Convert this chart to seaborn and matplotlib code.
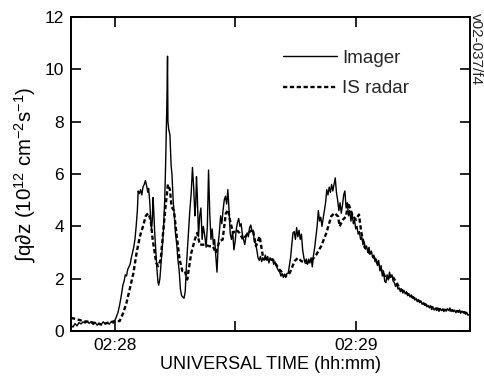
import matplotlib
matplotlib.use("Agg")
import matplotlib.pyplot as plt
import seaborn as sns
import pandas as pd

# seconds relative to 02:28:00
imager_t = [-10.9, -10.4, -9.9, -9.4, -8.9, -8.4, -7.9, -7.4, -6.9, -6.4, -5.9, -5.4, -4.9, -4.4, -3.9, -3.4,
            -2.9, -2.4, -1.9, -1.4, -0.9, -0.4, 0.0, 0.4, 0.8, 1.2, 1.6, 2.0, 2.3, 2.6, 2.9, 3.2, 3.5, 3.8, 4.1,
            4.4, 4.7, 5.0, 5.3, 5.6, 5.8, 6.1, 6.4, 6.7, 7.0, 7.3, 7.6, 7.9, 8.2, 8.4, 8.7, 8.9, 9.1, 9.3, 9.5,
            9.7, 9.9, 10.1, 10.4, 10.7, 10.9, 11.2, 11.5, 11.8, 12.1, 12.4, 12.6, 12.8, 12.95, 13.1, 13.2, 13.4,
            13.7, 14.0, 14.2, 14.5, 14.8, 15.1, 15.4, 15.7, 16.0, 16.3, 16.6, 16.9, 17.2, 17.5, 17.8, 18.2, 18.6,
            19.0, 19.3, 19.6, 19.9, 20.1, 20.3, 20.5, 20.8, 21.1, 21.4, 21.7, 22.0, 22.3, 22.7, 23.0, 23.3, 23.6,
            23.9, 24.2, 24.5, 24.8, 25.1, 25.4, 25.7, 26.0, 26.3, 26.6, 26.9, 27.2, 27.5, 27.8, 28.1, 28.4, 28.7,
            29.0, 29.3, 29.6, 29.9, 30.2, 30.5, 30.8, 31.1, 31.4, 31.7, 32.0, 32.3, 32.6, 32.9, 33.2, 33.5, 33.8,
            34.1, 34.4, 34.7, 35.0, 35.3, 35.6, 35.9, 36.2, 36.5, 36.8, 37.1, 37.4, 37.7, 38.0, 38.3, 38.6, 38.9,
            39.2, 39.5, 39.8, 40.1, 40.4, 40.7, 41.0, 41.3, 41.6, 41.9, 42.2, 42.5, 42.8, 43.1, 43.4, 43.7, 44.0,
            44.3, 44.6, 44.9, 45.2, 45.5, 45.8, 46.1, 46.4, 46.7, 47.0, 47.3, 47.6, 47.9, 48.2, 48.5, 48.8, 49.1,
            49.4, 49.7, 50.0, 50.3, 50.6, 50.9, 51.2, 51.5, 51.8, 52.1, 52.4, 52.7, 53.0, 53.3, 53.6, 53.9, 54.2,
            54.5, 54.8, 55.1, 55.4, 55.7, 56.0, 56.3, 56.6, 56.9, 57.2, 57.5, 57.8, 58.1, 58.4, 58.7, 59.0, 59.3,
            59.6, 59.9, 60.2, 60.5, 60.8, 61.1, 61.4, 61.7, 62.0, 62.3, 62.6, 62.9, 63.2, 63.5, 63.8, 64.1, 64.4,
            64.7, 65.0, 65.3, 65.6, 65.9, 66.2, 66.5, 66.8, 67.1, 67.4, 67.7, 68.0, 68.3, 68.6, 68.9, 69.2, 69.5,
            69.8, 70.1, 70.4, 70.7, 71.0, 71.3, 71.6, 71.9, 72.2, 72.5, 72.8, 73.1, 73.4, 73.7, 74.0, 74.3, 74.6,
            74.9, 75.2, 75.5, 75.8, 76.1, 76.4, 76.7, 77.0, 77.3, 77.6, 77.9, 78.2, 78.5, 78.8, 79.1, 79.4, 79.7,
            80.0, 80.3, 80.6, 80.9, 81.2, 81.5, 81.8, 82.1, 82.4, 82.7, 83.0, 83.3, 83.6, 83.9, 84.2, 84.5, 84.8,
            85.1, 85.4, 85.7, 86.0, 86.3, 86.6, 86.9, 87.2, 87.5, 87.8, 88.3]
imager_v = [0.22, 0.15, 0.28, 0.20, 0.32, 0.27, 0.35, 0.30, 0.38, 0.29, 0.36, 0.25, 0.33, 0.22, 0.30, 0.24,
            0.35, 0.27, 0.33, 0.26, 0.36, 0.30, 0.40, 0.55, 0.72, 1.0, 1.35, 1.75, 1.9, 2.15, 2.1, 2.35, 2.45, 2.55, 2.8,
            3.0, 3.2, 3.5, 4.0, 4.6, 5.35, 5.25, 5.4, 5.2, 5.5, 5.6, 5.75, 5.55, 5.3, 5.45, 4.9, 4.3, 3.9, 4.2, 5.1,
            4.5, 3.8, 3.3, 2.5, 1.9, 1.75, 2.0, 2.6, 3.2, 3.9, 5.0, 6.2, 7.8, 8.8, 10.5, 8.0, 7.7,
            7.5, 6.3, 6.0, 5.0, 4.4, 3.7, 3.3, 2.7, 2.3, 1.6, 1.35, 1.3, 1.25, 1.5, 2.5, 3.5, 4.5,
            5.3, 6.25, 5.5, 4.4, 4.8, 5.9, 5.2, 3.6, 4.4, 4.7, 3.5, 4.0, 3.7, 3.2, 4.0, 6.15, 4.5,
            3.5, 3.9, 3.3, 3.5, 2.9, 2.25, 3.3, 3.8, 4.4, 4.1, 4.6, 5.0, 5.15, 4.85, 5.4, 4.6, 3.7,
            3.5, 3.8, 3.1, 3.4, 3.9, 4.15, 4.3, 4.0, 4.1, 3.7, 3.5, 3.3, 3.6, 3.75, 3.6, 3.95, 4.05,
            3.8, 3.85, 3.4, 3.35, 3.1, 2.8, 2.7, 2.85, 2.65, 2.8, 2.7, 2.9, 2.75, 2.85, 2.6, 2.8, 2.7,
            2.75, 2.55, 2.65, 2.5, 2.4, 2.3, 2.25, 2.1, 2.2, 2.05, 2.15, 2.05, 2.2, 2.2, 2.5, 2.8, 3.3,
            3.75, 3.8, 3.5, 3.95, 3.6, 3.85, 3.5, 3.7, 3.1, 2.8, 2.6, 2.75, 2.55, 2.75, 2.6, 2.8, 2.45,
            2.9, 3.2, 3.6, 4.0, 4.6, 4.2, 4.35, 4.0, 4.3, 4.6, 4.9, 5.4, 5.2, 5.5, 5.3, 5.6, 5.35,
            5.6, 5.85, 5.3, 5.0, 4.6, 4.9, 4.5, 4.8, 5.2, 5.35, 4.7, 4.9, 4.4, 4.6, 4.2, 4.5, 4.1,
            4.25, 3.9, 4.0, 3.7, 3.8, 3.5, 3.6, 3.3, 3.4, 3.15, 3.25, 3.0, 3.2, 2.95, 3.05, 2.8, 2.9,
            2.65, 2.75, 2.5, 2.7, 2.3, 2.5, 2.1, 2.3, 1.9, 1.85, 2.15, 1.95, 2.25, 2.05, 2.15, 1.9, 1.85,
            1.7, 1.8, 1.6, 1.65, 1.5, 1.6, 1.45, 1.55, 1.42, 1.5, 1.35, 1.42, 1.3, 1.38, 1.25, 1.3, 1.18,
            1.25, 1.12, 1.2, 1.08, 1.15, 1.02, 1.08, 0.98, 1.02, 0.92, 0.98, 0.88, 0.95, 0.82, 0.9, 0.8, 0.88,
            0.78, 0.85, 0.75, 0.86, 0.78, 0.84, 0.74, 0.82, 0.76, 0.85, 0.78, 0.88, 0.76, 0.82, 0.74, 0.8, 0.7,
            0.78, 0.72, 0.8, 0.68, 0.76, 0.7, 0.74, 0.64, 0.7, 0.6, 0.65]

radar_t = [-10.9, -9.5, -7.9, -5.4, -3.4, -1.2, 0.0, 1.2, 2.1, 2.9, 3.7, 4.6, 5.4, 6.2, 7.0, 7.7, 8.3, 8.9,
           9.4, 10.3, 10.8, 11.4, 12.0, 12.6, 13.2, 13.7, 14.1, 14.7, 15.3, 16.1, 16.8, 17.4, 18.0, 18.5,
           19.0, 19.9, 20.5, 21.1, 22.3, 23.5, 24.4, 25.1, 26.0, 26.8, 27.6, 28.2, 28.6, 29.4, 30.2, 31.0,
           31.9, 33.1, 34.3, 35.1, 36.0, 36.8, 37.7, 39.3, 40.9, 42.5, 43.5, 44.7, 45.5, 46.4, 47.6, 48.8,
           50.1, 51.3, 52.6, 53.8, 54.6, 55.5, 55.9, 56.7, 57.5, 58.0, 59.2, 60.0, 60.7, 61.3, 62.1, 63.3,
           64.5, 66.0, 67.5, 69.0, 71.0, 73.0, 75.0, 78.0, 81.0, 84.0, 86.0, 88.3]
radar_v = [0.5, 0.45, 0.38, 0.32, 0.25, 0.33, 0.38, 0.38, 0.7, 1.08, 1.6, 2.2, 2.98, 3.6, 4.0, 4.4, 4.5, 4.25,
           3.5, 2.6, 2.48, 2.73, 3.75, 4.75, 5.6, 5.4, 4.75, 4.6, 3.75, 2.73, 2.29, 2.3, 1.97, 2.48,
           2.98, 3.5, 3.75, 3.3, 3.3, 3.24, 3.24, 2.98, 3.43, 3.49, 4.5, 4.63, 4.25, 3.75, 3.87, 3.75,
           3.49, 3.75, 3.87, 3.24, 3.62, 2.86, 2.73, 2.73, 2.35, 2.1, 2.22, 2.67, 2.79, 2.67, 2.60, 2.67,
           2.92, 3.24, 3.75, 4.38, 4.51, 4.38, 4.0, 4.25, 4.38, 4.9, 4.38, 4.25, 4.45, 3.75, 3.2, 2.98,
           2.8, 2.4, 2.0, 2.1, 1.6, 1.4, 1.2, 0.95, 0.82, 0.78, 0.74, 0.66]

series_names = ["Imager", "IS radar"]
x_tick_pos = [0, 30, 60]
x_tick_labels = ["02:28", "", "02:29"]
y_ticks = [0, 2, 4, 6, 8, 10, 12]

sns.set_theme(style="ticks")
plt.rcParams["font.family"] = ["Liberation Sans", "DejaVu Sans"]
plt.rcParams["mathtext.fontset"] = "custom"
plt.rcParams["mathtext.rm"] = "Liberation Sans"
plt.rcParams["mathtext.it"] = "Liberation Sans"
plt.rcParams["mathtext.sf"] = "Liberation Sans"

df_img = pd.DataFrame({"t": imager_t, "v": imager_v})
df_rad = pd.DataFrame({"t": radar_t, "v": radar_v})

fig = plt.figure(figsize=(4.84, 3.76), dpi=100)
ax = fig.add_axes([0.1467, 0.1197, 0.8243, 0.8351])

sns.lineplot(data=df_img, x="t", y="v", ax=ax, color="black", lw=1.0, label=series_names[0],
             estimator=None, sort=False)
sns.lineplot(data=df_rad, x="t", y="v", ax=ax, color="black", lw=1.7, label=series_names[1],
             estimator=None, sort=False, linestyle=(0, (1.8, 1.1)))

ax.set_xlim(-10.9, 88.3)
ax.set_ylim(0, 12)
ax.set_xticks(x_tick_pos)
ax.set_xticklabels(x_tick_labels)
ax.set_yticks(y_ticks)
ax.tick_params(direction="in", length=7, width=1.2, top=True, right=True, labelsize=12.5,
               colors="black", pad=5)
for s in ax.spines.values():
    s.set_linewidth(1.4)
    s.set_color("black")

ax.set_xlabel("UNIVERSAL TIME (hh:mm)", fontsize=13, labelpad=2, color="black")
ax.set_ylabel("∫q∂z (10$^{12}$ cm$^{-2}$s$^{-1}$)", fontsize=14.8, labelpad=5, color="black")

leg = ax.legend(loc="upper left", bbox_to_anchor=(0.5125, 0.92), frameon=False, fontsize=13.5,
                handlelength=2.9, handletextpad=0.27, labelspacing=0.72, borderaxespad=0)

fig.text(0.983, 0.965, "v02-037/f4", rotation=-90, ha="center", va="top", fontsize=11)

fig.savefig("out.png", dpi=100)
